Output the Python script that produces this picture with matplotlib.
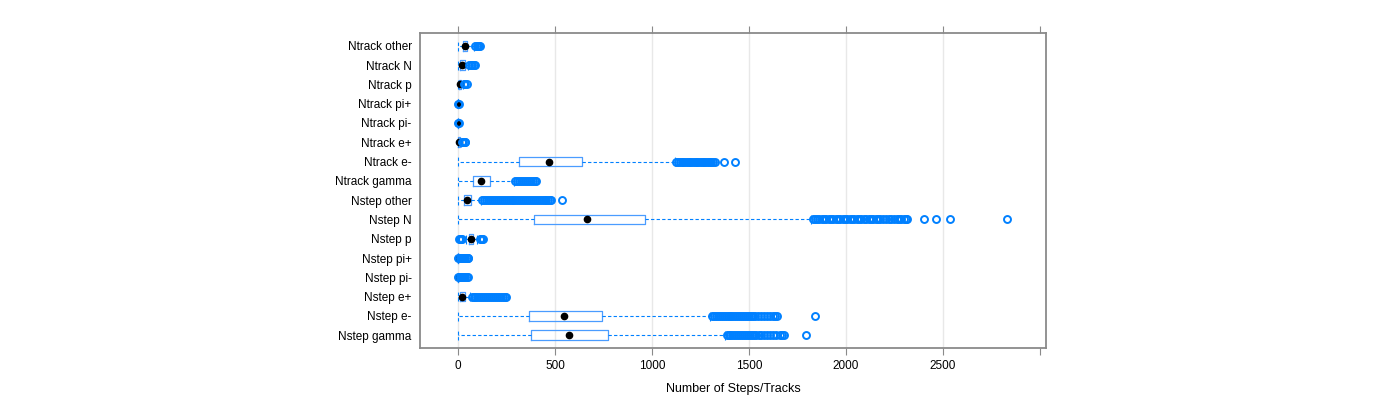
import matplotlib
matplotlib.use("Agg")
import matplotlib.pyplot as plt

plt.rcParams['font.family'] = ['Liberation Sans', 'DejaVu Sans']

# categories bottom -> top
labels = ["Nstep gamma", "Nstep e-", "Nstep e+", "Nstep pi-", "Nstep pi+", "Nstep p",
          "Nstep N", "Nstep other", "Ntrack gamma", "Ntrack e-", "Ntrack e+",
          "Ntrack pi-", "Ntrack pi+", "Ntrack p", "Ntrack N", "Ntrack other"]

# five-number summaries
q1 = [375, 364, 10, 0, 0, 57, 394, 31, 79, 314, 2, 0, 0, 4, 12, 24]
med = [572, 546, 22, 0, 0, 67, 663, 48, 120, 469, 5, 0, 0, 10, 22, 36]
q3 = [775, 741, 36, 0, 0, 79, 966, 69, 165, 637, 8, 0, 0, 14, 34, 48]
lo = [0, 0, 0, 0, 0, 40, 0, 0, 0, 0, 0, 0, 0, 0, 0, 0]
hi = [1375, 1300, 62, 0, 0, 100, 1820, 120, 290, 1118, 16, 0, 0, 26, 50, 82]

# outliers
fliers = [
    [1385, 1395, 1405, 1415, 1425, 1435, 1445, 1455, 1465, 1475, 1485, 1495, 1505, 1515,
     1527, 1539, 1551, 1563, 1578, 1594, 1610, 1626, 1642, 1658, 1672, 1682, 1792],
    [1310, 1320, 1330, 1340, 1350, 1360, 1370, 1380, 1390, 1400, 1410, 1420, 1430, 1440,
     1450, 1460, 1470, 1480, 1490, 1500, 1510, 1520, 1532, 1546, 1562, 1578, 1594, 1608,
     1622, 1634, 1644, 1840],
    [70, 80, 90, 100, 110, 120, 130, 140, 150, 160, 170, 180, 190, 200, 210, 220, 230,
     240, 247],
    [2, 8, 14, 20, 26, 32, 38, 44, 50],
    [2, 8, 14, 20, 26, 32, 38, 44, 50, 54],
    [4, 10, 16, 22, 114, 120, 126, 130],
    [1828, 1840, 1852, 1864, 1876, 1888, 1900, 1912, 1924, 1936, 1948, 1960, 1972, 1984,
     1996, 2008, 2020, 2032, 2044, 2056, 2068, 2080, 2094, 2106, 2118, 2130, 2142, 2154,
     2166, 2178, 2192, 2206, 2220, 2234, 2248, 2262, 2274, 2286, 2298, 2308, 2315, 2402,
     2464, 2536, 2832],
    [126, 136, 146, 156, 166, 176, 186, 196, 206, 216, 226, 236, 246, 256, 266, 276, 286,
     296, 306, 316, 326, 336, 346, 356, 366, 376, 386, 396, 406, 416, 426, 436, 446, 456,
     466, 474, 478, 534],
    [296, 306, 316, 326, 336, 346, 356, 366, 376, 386, 396, 404],
    [1126, 1135, 1144, 1153, 1162, 1171, 1180, 1189, 1198, 1207, 1216, 1225, 1234, 1243,
     1252, 1261, 1270, 1279, 1288, 1297, 1306, 1315, 1324, 1370, 1429],
    [22, 28, 34, 38],
    [2, 4],
    [2, 4],
    [32, 38, 44],
    [58, 66, 74, 82, 88],
    [90, 96, 102, 108, 113],
]

blue = "#0080ff"
frame = "#8a8a8a"

stats = []
for i in range(len(labels)):
    stats.append(dict(label=labels[i], q1=q1[i], med=med[i], q3=q3[i],
                      whislo=lo[i], whishi=hi[i], fliers=fliers[i]))

fig = plt.figure(figsize=(14, 4), dpi=100)
ax = fig.add_axes([0.3, 0.13, 0.447, 0.7875])

pos = list(range(1, len(labels) + 1))
ax.bxp(stats, positions=pos, widths=0.5, orientation='horizontal', showcaps=True,
       capwidths=0.5,
       boxprops=dict(color="#4a9cff", linewidth=0.9),
       whiskerprops=dict(color=blue, linewidth=0.8, linestyle=(0, (3, 2))),
       capprops=dict(color=blue, linewidth=0.8, linestyle=(0, (3, 2))),
       medianprops=dict(linewidth=0),
       flierprops=dict(marker='o', markerfacecolor='none', markeredgecolor=blue,
                       markersize=5, markeredgewidth=1.4, zorder=6))
ax.plot(med, pos, 'o', color='black', markersize=4.5, zorder=4)

ax.set_xlim(-196, 3031)
ax.set_ylim(0.34, 16.66)
ax.set_xticks([0, 500, 1000, 1500, 2000, 2500, 3000])
ax.set_xticklabels(["0", "500", "1000", "1500", "2000", "2500", ""])
ax.set_yticks(pos)
ax.set_yticklabels(labels)
for x in [0, 500, 1000, 1500, 2000, 2500]:
    ax.axvline(x, color="#e8e8e8", linewidth=1, zorder=0)

ax.tick_params(axis='x', which='both', top=True, bottom=True, direction='out',
               length=5, color=frame, labelsize=8.5)
ax.tick_params(axis='y', length=0, labelsize=8.5, pad=6)
for s in ax.spines.values():
    s.set_color(frame)
    s.set_linewidth(1.3)
ax.set_xlabel("Number of Steps/Tracks", fontsize=9, labelpad=8)

fig.savefig("out.png")
